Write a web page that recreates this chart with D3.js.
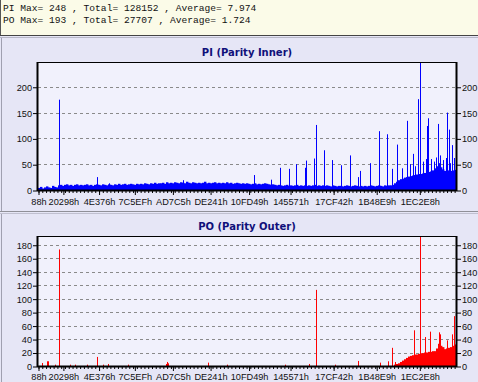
<!DOCTYPE html>
<html><head><meta charset="utf-8">
<script src="https://cdn.jsdelivr.net/npm/d3@7"></script>
<style>body{margin:0;background:#e6e6f6;} svg{display:block}</style>
</head><body><svg id="c" width="478" height="382"></svg>
<script>
// ---------- data ----------
const summaryLines = [
  "PI Max= 248 , Total= 128152 , Average= 7.974",
  "PO Max= 193 , Total= 27707 , Average= 1.724"
];
const xTickSectors = [0x88, 0x20298, 0x4E376, 0x7C5EF, 0xAD7C5, 0xDE241, 0x10FD49, 0x145571, 0x17CF42, 0x1B48E9, 0x1EC2E8];
const sectorStart = 0x88;
const sectorEnd = 2210000;

// PI level per bin (209 equal sector bins)
const piBase = [
  4,6,3,5,7,5,4,8,6,5,
  9,10,8,10,11,9,10,8,10,11,
  9,10,9,10,11,9,10,8,10,11,
  10,9,11,10,9,11,10,9,11,10,
  12,10,11,12,10,11,12,11,10,12,
  11,12,11,13,12,11,13,12,14,12,
  13,13,14,12,15,13,14,13,15,14,
  13,15,14,13,16,14,13,15,14,13,
  14,13,14,16,13,14,13,14,15,13,
  14,13,14,13,15,13,14,12,13,14,
  13,12,13,12,13,12,11,12,13,11,
  12,11,12,13,12,11,10,11,10,9,
  10,9,8,9,10,8,9,8,9,10,
  8,9,8,9,8,9,8,9,10,8,
  9,8,9,8,9,8,7,9,8,7,
  8,8,7,8,9,8,7,8,9,8,
  7,8,7,8,7,8,9,8,7,8,
  9,8,7,9,8,9,9,10,13,16,
  19,21,22,24,25,26,27,28,29,30,
  31,31,32,33,34,35,36,38,42,46,
  52,44,40,37,36,38,37,38,39
];
// PI single-sector spikes [sector, value]
const piSpikes = [
  [110100,175],[311000,25],[377100,13],[768300,19],[1140000,29],[1232000,20],
  [1277500,43],[1325000,41],[1365800,50],[1413300,43],[1418600,57],[1461000,61],
  [1471500,126],[1510100,77],[1556100,58],[1603700,48],[1651300,67],[1689900,25],
  [1704100,37],[1753300,52],[1800900,114],[1846900,108],[1871700,41],[1899800,88],
  [1925000,42],[1952600,134],[1968000,50],[1984300,70],[1995000,46],[2007100,176],
  [2021400,248],[2035000,55],[2049400,60],[2056800,124],[2062100,139],[2079500,60],
  [2095000,55],[2105000,63],[2116500,128],[2123400,67],[2140000,58],[2155100,62],
  [2164100,150],[2171000,117],[2180000,52],[2190500,87],[2200000,62]
];

// PO level per bin, starting at bin 178
const poBaseStartBin = 178;
const poBase = [
  2,3,4,6,8,10,12,14,15,16,
  17,17,18,19,19,20,20,21,21,22,
  22,26,33,30,28,25,26,27,28,30,32
];
const poSpikes = [
  [21300,4.5],[47700,7],[53000,7],[87900,2],[112700,173],[170900,2],[197300,2],
  [259200,2],[312100,13.5],[345400,2],[371800,3],[477600,2],[675800,3],[682200,6],
  [689000,4],[898900,5],[999400,2],[1307600,2],[1434500,3],[1471500,113],[1572000,2],
  [1689900,7.5],[1809900,5],[1850600,7],[1871700,27],[1889200,6],[1986000,53],
  [2021400,193],[2044100,43],[2074200,51],[2118100,50],[2127100,47],[2162500,38],
  [2189000,47],[2197400,74]
];

const piTicks = [0,50,100,150,200];
const poTicks = [0,20,40,60,80,100,120,140,160,180];

// ---------- drawing ----------
const svg = d3.select("#c");
const W = 478, H = 382;
svg.append("rect").attr("width",W).attr("height",H).attr("fill","#e6e6f6");

// summary header
svg.append("rect").attr("x",0).attr("y",0).attr("width",W).attr("height",36).attr("fill","#fbfbe8");
svg.append("line").attr("x1",0.5).attr("x2",0.5).attr("y1",0).attr("y2",36).attr("stroke","#555");
svg.append("line").attr("x1",0).attr("x2",W).attr("y1",35.5).attr("y2",35.5).attr("stroke","#444");
svg.append("line").attr("x1",0).attr("x2",W).attr("y1",37.5).attr("y2",37.5).attr("stroke","#b8b8c8");
svg.selectAll("text.sum").data(summaryLines).join("text")
  .attr("class","sum").attr("x",3).attr("y",(d,i)=>10.5+i*12.5)
  .attr("font-family","'Liberation Mono', monospace").attr("font-size","9.6px")
  .attr("fill","#111").text(d=>d);

// panel separators / borders
svg.append("line").attr("x1",1.5).attr("x2",1.5).attr("y1",38).attr("y2",211).attr("stroke","#a0a0b0");
svg.append("line").attr("x1",0).attr("x2",W).attr("y1",211.5).attr("y2",211.5).attr("stroke","#909098");
svg.append("line").attr("x1",0).attr("x2",W).attr("y1",213.5).attr("y2",213.5).attr("stroke","#c0c0d0");
svg.append("line").attr("x1",1.5).attr("x2",1.5).attr("y1",214).attr("y2",H).attr("stroke","#a0a0b0");

const hexFmt = d => d.toString(16).toUpperCase() + "h";
const xL = 38, xR = 456;
const nBins = piBase.length;
const binSize = (sectorEnd - sectorStart) / nBins;

const panels = [
  {title:"PI (Parity Inner)", titleY:56, top:62, bottom:190, yMax:248, ticks:piTicks, color:"#0000ff",
   base:piBase, baseStart:0, spikes:piSpikes, labelY:205},
  {title:"PO (Parity Outer)", titleY:230, top:236, bottom:366, yMax:193, ticks:poTicks, color:"#ff0000",
   base:poBase, baseStart:poBaseStartBin, spikes:poSpikes, labelY:380}
];

panels.forEach(p => {
  const x = d3.scaleLinear().domain([sectorStart, sectorEnd]).range([xL, xR]);
  const y = d3.scaleLinear().domain([0, p.yMax]).range([p.bottom, p.top]);
  const g = svg.append("g");

  g.append("text").attr("x",(xL+xR)/2).attr("y",p.titleY).attr("text-anchor","middle")
    .attr("font-family","'DejaVu Sans', Verdana, sans-serif").attr("font-weight","bold")
    .attr("font-size","10px").attr("fill","#10107a").text(p.title);

  g.append("rect").attr("x",xL).attr("y",p.top).attr("width",xR-xL).attr("height",p.bottom-p.top)
    .attr("fill","#f1f1fc");

  // grid
  g.selectAll("line.grid").data(p.ticks.filter(t=>t>0)).join("line")
    .attr("x1",xL).attr("x2",xR).attr("y1",d=>Math.round(y(d))+0.5).attr("y2",d=>Math.round(y(d))+0.5)
    .attr("stroke","#8a8a8a").attr("stroke-dasharray","3,3");

  // level bars
  g.selectAll("rect.bin").data(p.base).join("rect")
    .attr("x",(d,i)=>x(sectorStart + (p.baseStart+i)*binSize))
    .attr("width",(d,i)=>x(sectorStart + (p.baseStart+i+1)*binSize) - x(sectorStart + (p.baseStart+i)*binSize) + 0.4)
    .attr("y",d=>y(d)).attr("height",d=>p.bottom - y(d))
    .attr("fill",p.color);

  // spikes
  g.selectAll("line.sp").data(p.spikes).join("line")
    .attr("x1",d=>Math.round(x(d[0]))+0.5).attr("x2",d=>Math.round(x(d[0]))+0.5)
    .attr("y1",p.bottom).attr("y2",d=>y(d[1]))
    .attr("stroke",p.color).attr("stroke-width",1);

  // frame
  g.append("line").attr("x1",xL).attr("x2",xR).attr("y1",p.top+0.5).attr("y2",p.top+0.5).attr("stroke","#000");
  g.append("line").attr("x1",xR+0.5).attr("x2",xR+0.5).attr("y1",p.top).attr("y2",p.bottom+1).attr("stroke","#000").attr("stroke-width",2);
  g.append("line").attr("x1",xL-0.5).attr("x2",xL-0.5).attr("y1",p.top).attr("y2",p.bottom+1).attr("stroke","#000").attr("stroke-width",2);
  g.append("line").attr("x1",xL-1).attr("x2",xR+1).attr("y1",p.bottom+0.5).attr("y2",p.bottom+0.5).attr("stroke","#000").attr("stroke-width",2);

  const styleAxis = sel => {
    sel.select(".domain").remove();
    sel.selectAll("line").attr("stroke","#000");
    sel.selectAll("text").attr("font-family","'Liberation Sans', Arial, sans-serif").attr("font-size","9.2px").attr("fill","#111");
  };

  // y axes
  g.append("g").attr("transform",`translate(${xL-1},0.5)`)
    .call(d3.axisLeft(y).tickValues(p.ticks).tickSize(4).tickPadding(1)).call(styleAxis);
  g.append("g").attr("transform",`translate(${xR+1},0.5)`)
    .call(d3.axisRight(y).tickValues(p.ticks).tickSize(4).tickPadding(1)).call(styleAxis);

  // minor x ticks
  g.append("g").attr("transform",`translate(0.5,${p.bottom+1})`)
    .call(d3.axisBottom(x).tickValues(d3.range(sectorStart, sectorEnd, 20000)).tickSize(2).tickFormat(""))
    .call(styleAxis);
  // major x ticks
  const gx = g.append("g").attr("transform",`translate(0.5,${p.bottom+1})`)
    .call(d3.axisBottom(x).tickValues(xTickSectors).tickSize(4).tickFormat(hexFmt))
    .call(styleAxis);
  gx.selectAll("text").attr("y", p.labelY - p.bottom - 1).attr("dy", null);
});
</script></body></html>
